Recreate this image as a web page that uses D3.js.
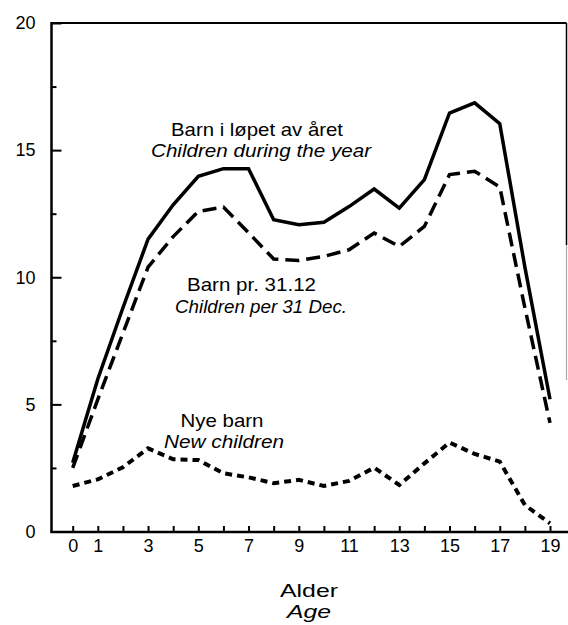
<!DOCTYPE html>
<html>
<head>
<meta charset="utf-8">
<script src="https://cdn.jsdelivr.net/npm/d3@7"></script>
<style>
  html, body { margin: 0; padding: 0; background: #fff; }
  svg { display: block; font-family: "Liberation Sans", Arial, Helvetica, sans-serif; }
</style>
</head>
<body>
<svg id="chart" width="568" height="625"></svg>
<script>
// ---- data ----
const ages = [0,1,2,3,4,5,6,7,8,9,10,11,12,13,14,15,16,17,18,19];
const childrenDuringYear = [2.7, 6.0, 8.8, 11.5, 12.85, 13.97, 14.27, 14.27, 12.26, 12.07, 12.16, 12.78, 13.47, 12.72, 13.84, 16.46, 16.86, 16.04, 10.4, 5.2];
const childrenPerDec = [2.5, 5.2, 7.8, 10.4, 11.6, 12.59, 12.76, 11.75, 10.72, 10.66, 10.82, 11.08, 11.74, 11.21, 12.0, 14.04, 14.17, 13.55, 8.8, 4.27];
const newChildren = [1.79, 2.05, 2.53, 3.27, 2.84, 2.81, 2.29, 2.13, 1.90, 2.03, 1.79, 1.99, 2.51, 1.83, 2.68, 3.50, 3.05, 2.75, 1.04, 0.32];
const yTickLabels = [0, 5, 10, 15, 20];
const yMinorTicks = [2.5, 7.5, 12.5, 17.5];
const xTickLabels = [0, 1, 3, 5, 7, 9, 11, 13, 15, 17, 19];
const seriesLabels = [
  ["Barn i løpet av året", "Children during the year"],
  ["Barn pr. 31.12", "Children per 31 Dec."],
  ["Nye barn", "New children"]
];
const axisTitle = ["Alder", "Age"];

(function () {
// ---- layout ----
const svg = d3.select("#chart");
const pl = 51.5, pr = 566.5, pt = 23, pb = 532;
const x = d3.scaleLinear().domain([0, 19]).range([72.7, 550]);
const y = d3.scaleLinear().domain([0, 20]).range([531.5, 23]);

// frame
svg.append("line").attr("x1", pl).attr("x2", pr).attr("y1", pt).attr("y2", pt)
  .attr("stroke", "#000").attr("stroke-width", 2);
svg.append("line").attr("x1", pr).attr("x2", pr).attr("y1", pt).attr("y2", 245)
  .attr("stroke", "#000").attr("stroke-width", 1.5);
svg.append("line").attr("x1", pr).attr("x2", pr).attr("y1", 245).attr("y2", 380)
  .attr("stroke", "#aaa").attr("stroke-width", 1.2);

// y axis major
const yAxis = svg.append("g").attr("transform", `translate(${pl},0)`)
  .call(d3.axisLeft(y).tickValues(yTickLabels).tickSizeInner(-10).tickSizeOuter(0).tickPadding(16).tickFormat(d3.format("d")));
yAxis.select(".domain").remove();
yAxis.selectAll(".tick line").attr("stroke", "#000").attr("stroke-width", 2);
yAxis.selectAll("text").attr("font-size", 18).attr("fill", "#000")
  .attr("font-family", "'Liberation Sans', Arial, sans-serif");

// y axis minor
const yMinor = svg.append("g").attr("transform", `translate(${pl},0)`)
  .call(d3.axisLeft(y).tickValues(yMinorTicks).tickSizeInner(-5).tickSizeOuter(0).tickFormat(""));
yMinor.select(".domain").remove();
yMinor.selectAll(".tick line").attr("stroke", "#000").attr("stroke-width", 2);

// x axis ticks
const xTicks = svg.append("g").attr("transform", `translate(0,${pb})`)
  .call(d3.axisBottom(x).tickValues(ages).tickSizeInner(-6).tickSizeOuter(0).tickFormat(""));
xTicks.select(".domain").remove();
xTicks.selectAll(".tick line").attr("stroke", "#000").attr("stroke-width", 2);

// x axis labels
const xLabels = svg.append("g").attr("transform", `translate(0,${pb})`)
  .call(d3.axisBottom(x).tickValues(xTickLabels).tickSize(0).tickPadding(7.5).tickFormat(d3.format("d")));
xLabels.select(".domain").remove();
xLabels.selectAll("text").attr("font-size", 18).attr("fill", "#000")
  .attr("font-family", "'Liberation Sans', Arial, sans-serif");

// axis lines
svg.append("line").attr("x1", pl).attr("x2", pl).attr("y1", pt - 1).attr("y2", pb + 1)
  .attr("stroke", "#000").attr("stroke-width", 2.5);
svg.append("line").attr("x1", pl - 1).attr("x2", 568).attr("y1", pb).attr("y2", pb)
  .attr("stroke", "#000").attr("stroke-width", 2.5);

// series
const line = d3.line().x((d, i) => x(ages[i])).y(d => y(d));
svg.append("path").datum(childrenDuringYear).attr("d", line)
  .attr("fill", "none").attr("stroke", "#000").attr("stroke-width", 3.5).attr("stroke-linejoin", "miter");
svg.append("path").datum(childrenPerDec).attr("d", line)
  .attr("fill", "none").attr("stroke", "#000").attr("stroke-width", 3.5).attr("stroke-dasharray", "14,7");
svg.append("path").datum(newChildren).attr("d", line)
  .attr("fill", "none").attr("stroke", "#000").attr("stroke-width", 4).attr("stroke-dasharray", "7,5");

// text labels
function label(txt, x0, yb, w, size, italic) {
  svg.append("text").attr("x", x0).attr("y", yb).text(txt)
    .attr("font-size", size).attr("font-style", italic ? "italic" : "normal")
    .attr("fill", "#000")
    .attr("textLength", w).attr("lengthAdjust", "spacingAndGlyphs");
}
label(seriesLabels[0][0], 171, 135.7, 172, 18.5, false);
label(seriesLabels[0][1], 151, 156.7, 220, 18.5, true);
label(seriesLabels[1][0], 187, 290.7, 129, 18.5, false);
label(seriesLabels[1][1], 175, 313.3, 172, 18.5, true);
label(seriesLabels[2][0], 180.5, 426.7, 83, 18.5, false);
label(seriesLabels[2][1], 164, 448, 120, 18.5, true);
label(axisTitle[0], 280, 597, 58, 19, false);
label(axisTitle[1], 287, 617.5, 44, 18, true);
})();
</script>
</body>
</html>
